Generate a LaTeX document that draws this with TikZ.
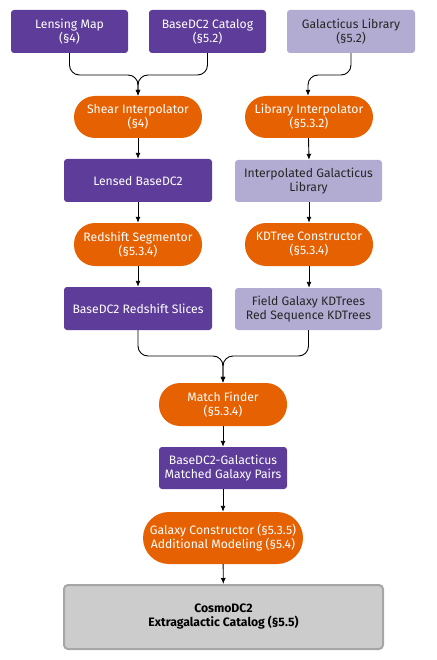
\documentclass[tikz,border=0pt]{standalone}
\usepackage{fontspec}
\setmainfont{Fira Sans}
\usepackage{tikz}
\usetikzlibrary{arrows.meta}
\definecolor{darkpurple}{HTML}{5E3C99}
\definecolor{lightpurple}{HTML}{B2ABD2}
\definecolor{burntorange}{HTML}{E66101}
\definecolor{boxgray}{HTML}{CCCCCC}
\definecolor{edgegray}{HTML}{A6A6A6}

\begin{document}
\begin{tikzpicture}[x=1pt, y=-1pt,
    every node/.style={font=\fontsize{12.2}{14}\selectfont, align=center, inner sep=0pt},
    darkdata/.style={fill=darkpurple, text=white, rounded corners=3pt, minimum height=43pt},
    lightdata/.style={fill=lightpurple, text=black!85, rounded corners=3pt, minimum height=42pt},
    process/.style={fill=burntorange, text=white, rounded corners=21pt, minimum width=128pt, minimum height=42pt},
    flow/.style={-{Latex[length=6pt,width=5pt]}, line width=0.9pt, rounded corners=10pt}]
            \useasboundingbox (0,0) rectangle (436,660);
            % inputs
            \node[darkdata, minimum width=117pt] (lensmap) at (69.5,31.5) {Lensing Map\\(§4)};
            \node[darkdata, minimum width=117pt] (basecat) at (207.5,31.5) {BaseDC2 Catalog\\(§5.2)};
            \node[lightdata, minimum width=128pt, minimum height=43pt] (galib) at (351,31.5) {Galacticus Library\\(§5.2)};
            % left column
            \node[process] (shear) at (138,117) {Shear Interpolator\\(§4)};
            \node[darkdata, minimum width=148pt] (lensed) at (138,180.5) {Lensed BaseDC2};
            \node[process, minimum height=43pt] (segment) at (138,244.5) {Redshift Segmentor\\(§5.3.4)};
            \node[darkdata, minimum width=148pt] (slices) at (138,308.5) {BaseDC2 Redshift Slices};
            % right column
            \node[process] (libinterp) at (309,117) {Library Interpolator\\(§5.3.2)};
            \node[lightdata, minimum width=147pt] (interplib) at (308.5,181) {Interpolated Galacticus\\Library};
            \node[process, minimum height=43pt] (kdbuild) at (309,244.5) {KDTree Constructor\\(§5.3.4)};
            \node[lightdata, minimum width=147pt] (kdtrees) at (308.5,309) {Field Galaxy KDTrees\\Red Sequence KDTrees};
            % merged part
            \node[process, minimum height=43pt] (match) at (223,404.5) {Match Finder\\(§5.3.4)};
            \node[darkdata, minimum width=128pt, minimum height=42pt] (pairs) at (223,468) {BaseDC2-Galacticus\\Matched Galaxy Pairs};
            \node[process, minimum width=160pt, minimum height=52pt, rounded corners=26pt] (build) at (223,538) {Galaxy Constructor (§5.3.5)\\Additional Modeling (§5.4)};
            \node[fill=boxgray, draw=edgegray, line width=2pt, rounded corners=4pt, minimum width=319pt, minimum height=64pt, font=\fontsize{12.2}{14}\selectfont\bfseries] (cosmo) at (223.5,617) {CosmoDC2\\Extragalactic Catalog (§5.5)};
            % connectors
            \coordinate (jointop) at (138,75);
            \coordinate (jointgal) at (308,75);
            \coordinate (jointmid) at (223,356);
            \draw[flow] (lensmap.south) |- (jointop) -- (shear.north);
            \draw[flow] (basecat.south) |- (jointop) -- (shear.north);
            \draw[flow] (galib.south) |- (jointgal) -- (jointgal |- libinterp.north);
            \draw[flow] (shear) -- (lensed);
            \draw[flow] (lensed) -- (segment);
            \draw[flow] (segment) -- (slices);
            \draw[flow] (libinterp.south -| interplib.north) -- (interplib.north -| libinterp.south);
            \draw[flow] (interplib.south -| kdbuild.north) -- (kdbuild.north);
            \draw[flow] (kdbuild.south) -- (kdtrees.north -| kdbuild.south);
            \draw[flow] (slices.south) |- (jointmid) -- (match.north);
            \draw[flow] (kdtrees.south) |- (jointmid) -- (match.north);
            \draw[flow] (match) -- (pairs);
            \draw[flow] (pairs) -- (build);
            \draw[flow] (build) -- (cosmo);
        \end{tikzpicture}
\end{document}
